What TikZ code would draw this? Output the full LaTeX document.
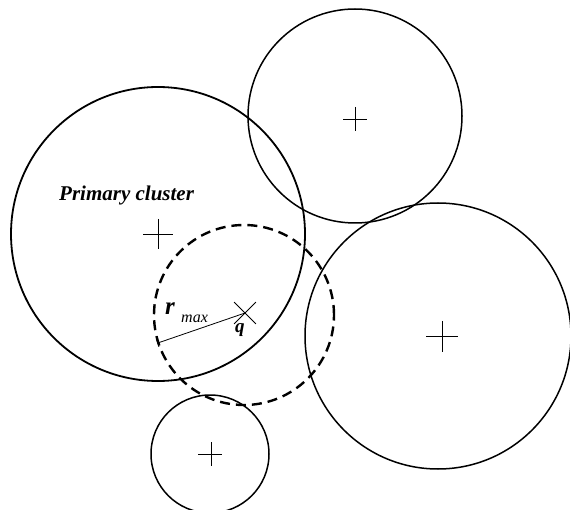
\documentclass[tikz,border=0pt]{standalone}
\usepackage{fontspec}
\setmainfont{Liberation Serif}
\usetikzlibrary{arrows.meta,shapes.misc}
\begin{document}
\begin{tikzpicture}[x=1pt,y=-1pt,
  cluster/.style={circle,draw,line width=1.5pt,inner sep=0pt,minimum size=#1},
  query/.style={circle,draw,line width=2.4pt,dash pattern=on 10pt off 6pt,inner sep=0pt,minimum size=#1},
  centre/.style={line width=0.7pt},
  lbl/.style={inner sep=0pt,anchor=base west}
]
\useasboundingbox (0,0) rectangle (570,510);

% cluster spheres
\node[cluster=294pt,line width=1.8pt] (prim) at (158,234) {};
\node[cluster=214pt] (top)   at (355,116) {};
\node[cluster=266pt] (right) at (438,336) {};
\node[cluster=118pt] (bot)   at (210,454) {};

% query sphere of radius r_max around q
\node[query=180pt] (qs) at (244,315) {};
\node[cross out,draw,line width=0.8pt,minimum size=21pt,inner sep=0pt] (q) at (245,313) {};

% cluster centres
\draw[centre] (prim.center)  +(-15,0) -- +(15,0) (prim.center)  +(0,-15) -- +(0,15);
\draw[centre] (top.center)   +(-12,3) -- +(12,3) (top.center)   +(0,-9) -- +(0,15);
\draw[centre] (right.center) +(-12,0) -- +(20,0) (right.center) +(4,-15) -- +(4,16);
\draw[centre] (bot.center)   +(-12,0) -- +(12,0) (bot.center)   +(1,-12) -- +(1,12);

% radius
\draw[line width=0.8pt,{Bar[width=8pt]}-] (qs.198) -- (q.center);

% labels
\node[lbl,font=\fontsize{21}{24}\selectfont\bfseries\itshape] (pc) at (59,201) {Primary cluster};
\node[lbl,font=\fontsize{25}{28}\selectfont\bfseries\itshape] (rl) at (165,315) {r};
\node[lbl,font=\fontsize{16}{18}\selectfont\itshape] (ml) at (181,323) {max};
\node[lbl,font=\fontsize{19}{22}\selectfont\bfseries\itshape] (ql) at (235,333) {q};
\end{tikzpicture}
\end{document}
